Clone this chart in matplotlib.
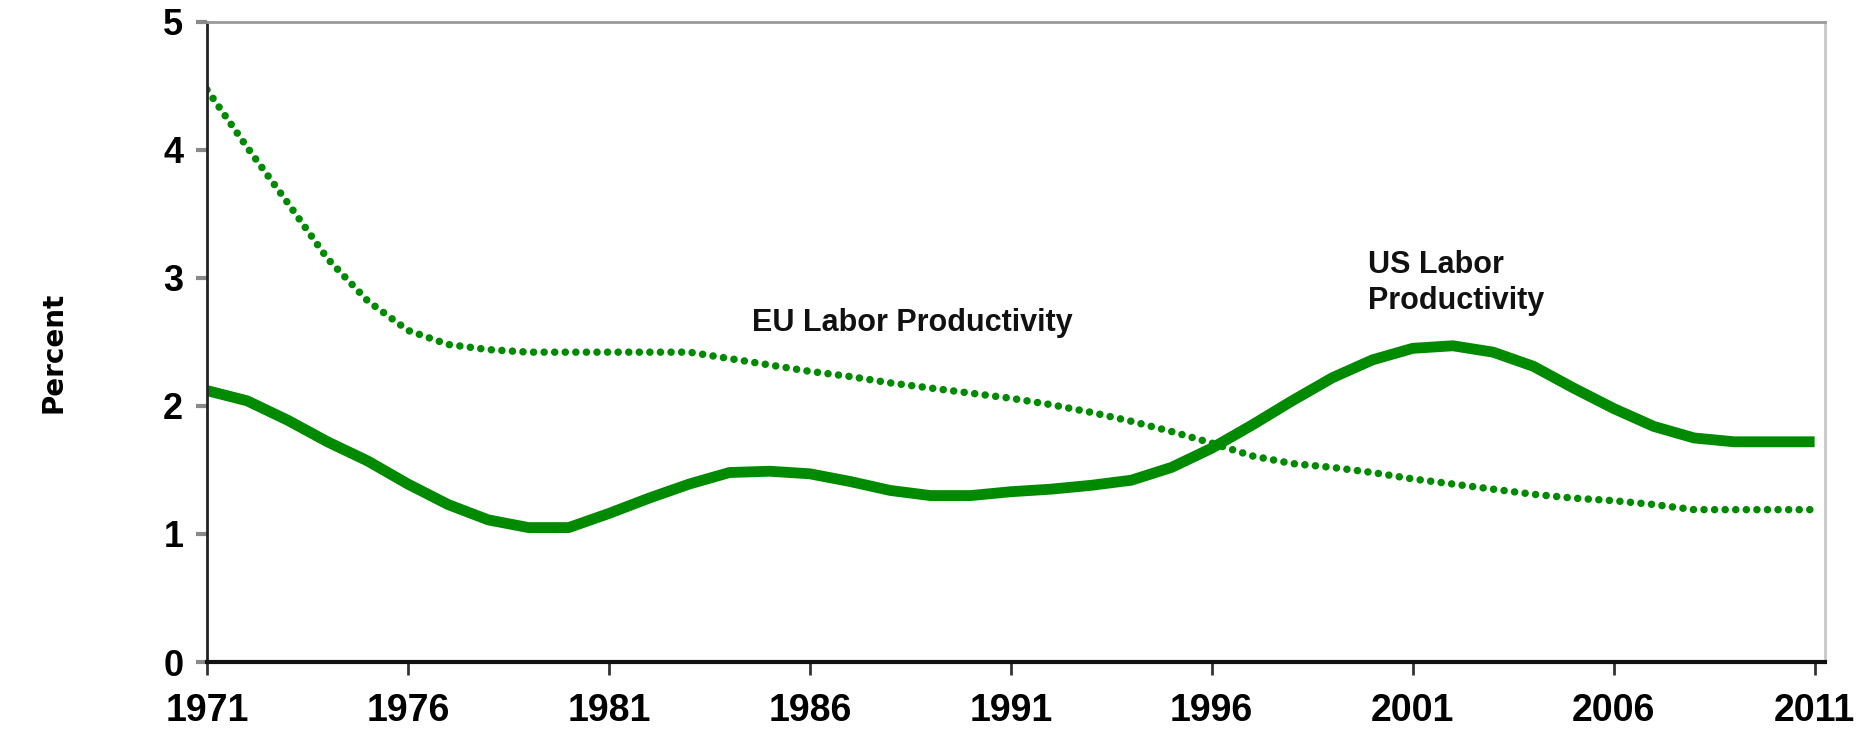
import matplotlib
matplotlib.use("Agg")
import matplotlib.pyplot as plt

# annual values (percent)
years = list(range(1971, 2012))
us_productivity = [
    2.12, 2.04, 1.89, 1.72, 1.57, 1.39, 1.23, 1.11, 1.05, 1.05,
    1.16, 1.28, 1.39, 1.48, 1.49, 1.47, 1.41, 1.34, 1.30, 1.30,
    1.33, 1.35, 1.38, 1.42, 1.52, 1.67, 1.85, 2.04, 2.22, 2.36,
    2.45, 2.47, 2.42, 2.31, 2.14, 1.98, 1.84, 1.75, 1.72, 1.72,
    1.72,
]
eu_productivity = [
    4.47, 4.02, 3.59, 3.15, 2.82, 2.59, 2.48, 2.44, 2.42, 2.42,
    2.42, 2.42, 2.42, 2.37, 2.32, 2.27, 2.23, 2.18, 2.14, 2.10,
    2.06, 2.01, 1.95, 1.88, 1.80, 1.71, 1.61, 1.55, 1.52, 1.48,
    1.43, 1.39, 1.35, 1.31, 1.28, 1.26, 1.23, 1.19, 1.19, 1.19,
    1.19,
]
x_ticks = list(range(1971, 2012, 5))
y_ticks = [0, 1, 2, 3, 4, 5]

GREEN = "#008a00"
FONT = "Liberation Sans"

fig = plt.figure(figsize=(18.68, 7.35), dpi=100)
ax = fig.add_axes([0.1108, 0.0993, 0.866, 0.871])

ax.plot(years, us_productivity, color=GREEN, linewidth=7.8, solid_capstyle="butt",
        solid_joinstyle="round")
ax.plot(years, eu_productivity, color=GREEN, linewidth=5.4,
        linestyle=(0, (0.01, 1.4)), dash_capstyle="round")

ax.set_xlim(1971, 2011.25)
ax.set_ylim(0, 5)
ax.set_xticks(x_ticks)
ax.set_yticks(y_ticks)

# spines: black left/bottom, greyish top/right like the Excel frame
ax.spines["left"].set_color("#222222")
ax.spines["left"].set_linewidth(2)
ax.spines["bottom"].set_color("#111111")
ax.spines["bottom"].set_linewidth(3)
ax.spines["top"].set_color("#9a9a9a")
ax.spines["top"].set_linewidth(2)
ax.spines["right"].set_color("#c8c8c8")
ax.spines["right"].set_linewidth(2)

ax.tick_params(axis="y", direction="out", length=8, width=3, color="#8a8a8a",
               pad=9)
ax.tick_params(axis="x", direction="out", length=9, width=2, color="#333333",
               pad=13)
for lab in ax.get_yticklabels():
    lab.set_fontfamily(FONT)
    lab.set_fontweight("bold")
    lab.set_fontsize(26)
for lab in ax.get_xticklabels():
    lab.set_fontfamily(FONT)
    lab.set_fontweight("bold")
    lab.set_fontsize(27)

fig.text(0.0287, 0.52, "Percent", rotation=90, ha="center", va="center",
         fontsize=20, fontweight="bold", family="DejaVu Sans")

ax.text(1984.56, 2.65, "EU Labor Productivity", ha="left", va="center",
        fontsize=22, fontweight="bold", family=FONT, color="#111111")
ax.text(1999.88, 2.96, "US Labor\nProductivity", ha="left", va="center",
        fontsize=22, fontweight="bold", family=FONT, color="#111111",
        linespacing=1.3)

fig.savefig("out.png", dpi=100)
